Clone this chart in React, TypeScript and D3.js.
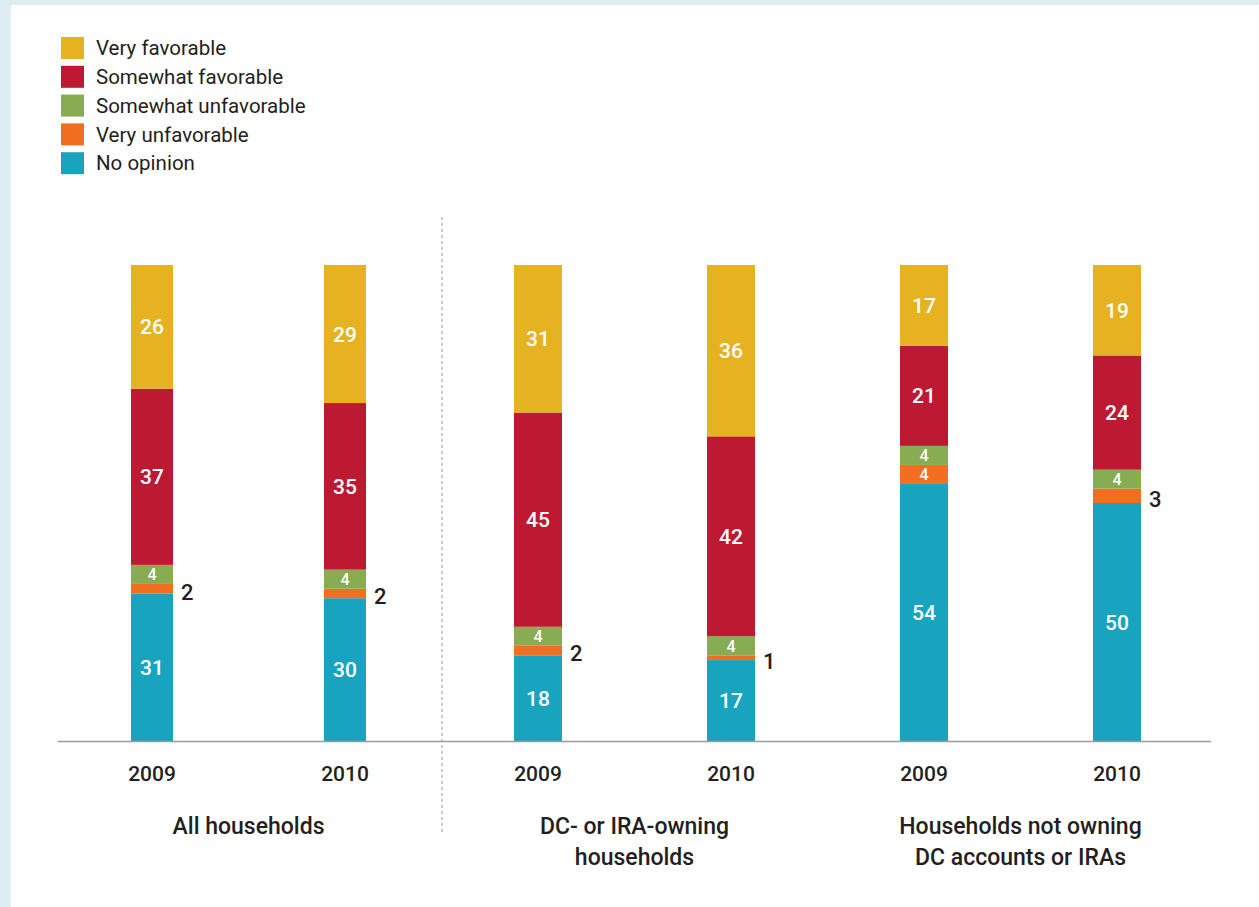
import React from "react";
import * as d3 from "d3";

const seriesNames = ["Very favorable", "Somewhat favorable", "Somewhat unfavorable", "Very unfavorable", "No opinion"];
const seriesColors = ["#e6b222", "#bd1932", "#88ac52", "#f26f22", "#18a4be"];
const barYears = ["2009", "2010", "2009", "2010", "2009", "2010"];
const groupLabels = [["All households"], ["DC- or IRA-owning", "households"], ["Households not owning", "DC accounts or IRAs"]];
const noOpinion = [31, 30, 18, 17, 54, 50];
const veryUnfavorable = [2, 2, 2, 1, 4, 3];
const somewhatUnfavorable = [4, 4, 4, 4, 4, 4];
const somewhatFavorable = [37, 35, 45, 42, 21, 24];
const veryFavorable = [26, 29, 31, 36, 17, 19];

export default function App() {
  const W = 1259, H = 907;
  const ids = barYears.map((_, i) => String(i));
  const x = d3.scalePoint<string>().domain(ids).range([55.5, 1213.5]).padding(0.5);
  const y = d3.scaleLinear().domain([0, 100]).range([741, 265]);
  const barWidth = (i: number) => (i < 2 ? 42 : 48);
  // stacking order bottom -> top
  const stackKeys = ["No opinion", "Very unfavorable", "Somewhat unfavorable", "Somewhat favorable", "Very favorable"];
  const rows = ids.map((id, i) => ({
    id,
    "No opinion": noOpinion[i],
    "Very unfavorable": veryUnfavorable[i],
    "Somewhat unfavorable": somewhatUnfavorable[i],
    "Somewhat favorable": somewhatFavorable[i],
    "Very favorable": veryFavorable[i],
  }));
  const stack = d3.stack<any>().keys(stackKeys)(rows);
  const colorOf = (k: string) => seriesColors[seriesNames.indexOf(k)];
  const font = "Roboto, 'Open Sans', sans-serif";

  return (
    <svg width={W} height={H} style={{ position: "absolute", left: 0, top: 0 }} fontFamily={font}>
      <rect x={0} y={0} width={W} height={H} fill="#deedf3" />
      <rect x={11} y={5} width={W - 11} height={H - 5} fill="#ffffff" />
      {/* legend */}
      {seriesNames.map((n, i) => (
        <g key={n} transform={`translate(61, ${37 + i * 28.8})`}>
          <rect width={23} height={22} fill={seriesColors[i]} />
          <text x={35} y={11} dy="0.35em" fontSize={20.5} fill="#231f20">{n}</text>
        </g>
      ))}
      {/* bars */}
      {stack.map((layer) => (
        <g key={layer.key}>
          {layer.map((d, i) => {
            const bw = barWidth(i);
            const x0 = (x(ids[i]) as number) - bw / 2;
            const y0 = y(d[1]);
            const y1 = y(d[0]);
            const v = d[1] - d[0];
            const inside = v >= 4;
            return (
              <g key={i}>
                <rect x={x0} y={y0} width={bw} height={y1 - y0} fill={colorOf(layer.key)} />
                {inside ? (
                  <text x={x0 + bw / 2} y={(y0 + y1) / 2} dy="0.36em" textAnchor="middle" fill="#fff" fontSize={v <= 4 ? 16 : 21} fontWeight={500}>{v}</text>
                ) : (
                  <text x={x0 + bw + 8} y={(y0 + y1) / 2 + 3} dy="0.36em" textAnchor="start" fill="#231f20" fontSize={22} fontWeight={500}>{v}</text>
                )}
              </g>
            );
          })}
        </g>
      ))}
      {/* axis */}
      <line x1={58} x2={1211} y1={741.5} y2={741.5} stroke="#9a9a9a" strokeWidth={1.5} />
      <line x1={442} x2={442} y1={217} y2={833} stroke="#9a9a9a" strokeWidth={1} strokeDasharray="3,3" />
      {barYears.map((yr, i) => (
        <text key={i} x={x(ids[i]) as number} y={773} dy="0.36em" textAnchor="middle" fontSize={21} fontWeight={500} fill="#231f20">{yr}</text>
      ))}
      {groupLabels.map((lines, g) => {
        const cx = ((x(ids[g * 2]) as number) + (x(ids[g * 2 + 1]) as number)) / 2;
        return (
          <text key={g} textAnchor="middle" fontSize={23} fontWeight={500} fill="#231f20">
            {lines.map((l, j) => (
              <tspan key={j} x={cx} y={826 + j * 31} dy="0.36em">{l}</tspan>
            ))}
          </text>
        );
      })}
    </svg>
  );
}
